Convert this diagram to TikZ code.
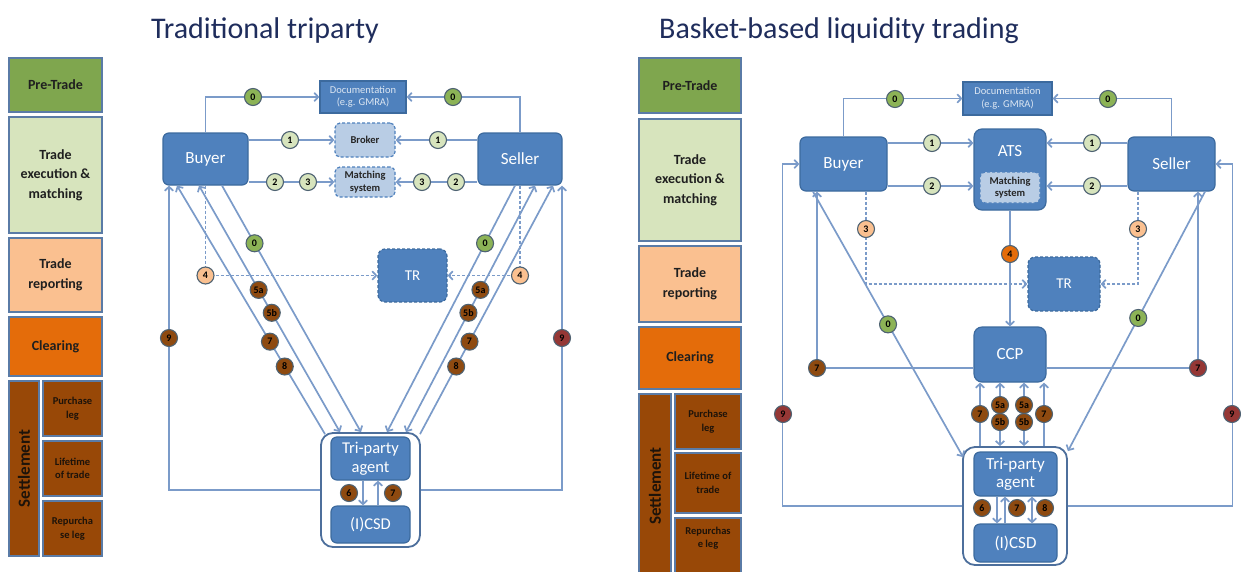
\documentclass[tikz,border=0pt]{standalone}
\usepackage{fontspec}
\setmainfont{Carlito}
\usetikzlibrary{arrows.meta,calc}
\definecolor{boxblue}{HTML}{4F81BD}
\definecolor{boxline}{HTML}{3C6A9E}
\definecolor{connc}{HTML}{7B9BC9}
\definecolor{lightbox}{HTML}{B9CDE5}
\definecolor{outerline}{HTML}{4D6F9C}
\definecolor{phaseline}{HTML}{5A7BA6}
\definecolor{pregreen}{HTML}{7FA64E}
\definecolor{execgreen}{HTML}{D7E4BD}
\definecolor{reppeach}{HTML}{FAC090}
\definecolor{clrorange}{HTML}{E46C0A}
\definecolor{settlebrown}{HTML}{984807}
\definecolor{titleblue}{HTML}{1F2D5C}
\definecolor{numgreen}{HTML}{8CB356}
\definecolor{numbrown}{HTML}{8E4A10}
\definecolor{numred}{HTML}{953735}
\definecolor{numline}{HTML}{4E6272}
\definecolor{doctext}{HTML}{DCE6F2}
\begin{document}
\begin{tikzpicture}[x=1pt,y=-1pt,
  >={Straight Barb[length=4pt,width=8.5pt]},
  conn/.style={draw=connc, line width=1.7pt},
  dsh/.style={dash pattern=on 3pt off 2pt},
  title/.style={font=\fontsize{30}{33}\selectfont, text=titleblue, inner sep=0pt},
  pbox/.style={draw=phaseline, line width=1.8pt, align=center, inner sep=1pt, font=\bfseries\fontsize{14}{19.5}\selectfont, text=black!88},
  sbox/.style={pbox, fill=settlebrown, font=\bfseries\fontsize{10.5}{13.5}\selectfont, text=black!85!brown},
  box/.style={draw=boxline, fill=boxblue, rounded corners=6pt, line width=1.2pt, text=white, inner sep=0pt, align=center, font=\fontsize{17}{18}\selectfont},
  docbox/.style={box, rounded corners=0pt, text=doctext, font=\fontsize{10.5}{12.5}\selectfont},
  lbox/.style={draw=boxblue, fill=lightbox, dsh, rounded corners=5pt, line width=1.2pt, text=black!85, inner sep=0pt, align=center, font=\bfseries\fontsize{10.5}{12.5}\selectfont},
  dbox/.style={box, dsh, rounded corners=7pt, font=\fontsize{15}{16}\selectfont},
  outer/.style={draw=outerline, fill=white, line width=1.8pt, rounded corners=12pt, inner sep=0pt},
  num/.style={circle, draw=numline, line width=1.1pt, minimum size=17pt, inner sep=0pt, text=black, font=\bfseries\fontsize{10}{10}\selectfont},
  n0/.style={num, fill=numgreen},
  n1/.style={num, fill=execgreen},
  np/.style={num, fill=reppeach},
  no/.style={num, fill=clrorange},
  nb/.style={num, fill=numbrown},
  nr/.style={num, fill=numred}
]
\useasboundingbox (0,0) rectangle (1241,571);

% titles
\node[title, anchor=base west] (titleL) at (151,38) {Traditional triparty};
\node[title, anchor=base west] (titleR) at (659,38) {Basket-based liquidity trading};

% ---------- left phase column
\node[pbox, fill=pregreen, minimum width=93pt, minimum height=54pt] (preL) at (55.5,85) {Pre-Trade};
\node[pbox, fill=execgreen, minimum width=93pt, minimum height=116pt] (execL) at (55.5,175) {Trade\\execution \&\\matching};
\node[pbox, fill=reppeach, minimum width=93pt, minimum height=74pt] (repL) at (55.5,275) {Trade\\reporting};
\node[pbox, fill=clrorange, minimum width=93pt, minimum height=59pt] (clrL) at (55.5,346.5) {Clearing};
\node[pbox, fill=settlebrown, rotate=90, minimum width=175pt, minimum height=30pt, text=black!85!brown, font=\bfseries\fontsize{17}{18}\selectfont] (setL) at (24,468.5) {Settlement};
\node[sbox, minimum width=59pt, minimum height=55pt] (purL) at (72.5,408.5) {Purchase\\leg};
\node[sbox, minimum width=59pt, minimum height=55pt] (lifL) at (72.5,468.5) {Lifetime\\of trade};
\node[sbox, minimum width=59pt, minimum height=55pt] (rpuL) at (72.5,528.5) {Repurcha\\se leg};

% ---------- right phase column
\node[pbox, fill=pregreen, minimum width=102pt, minimum height=55pt] (preR) at (690,85.5) {Pre-Trade};
\node[pbox, fill=execgreen, minimum width=102pt, minimum height=122pt] (execR) at (690,180) {Trade\\execution \&\\matching};
\node[pbox, fill=reppeach, minimum width=102pt, minimum height=76pt] (repR) at (690,284) {Trade\\reporting};
\node[pbox, fill=clrorange, minimum width=102pt, minimum height=62pt] (clrR) at (690,358) {Clearing};
\node[pbox, fill=settlebrown, rotate=90, minimum width=184pt, minimum height=32pt, text=black!85!brown, font=\bfseries\fontsize{17}{18}\selectfont] (setR) at (655,486) {Settlement};
\node[sbox, minimum width=66pt, minimum height=55pt] (purR) at (708,421.5) {Purchase\\leg};
\node[sbox, minimum width=66pt, minimum height=60pt] (lifR) at (708,483) {Lifetime of\\trade};
\node[sbox, minimum width=66pt, minimum height=58pt] (rpuR) at (708,547) {};
\node[font=\bfseries\fontsize{10.5}{13.5}\selectfont, text=black!85!brown, align=center] (rpuRt) at (708,538) {Repurchas\\e leg};

% ---------- left diagram nodes
\node[docbox, minimum width=86pt, minimum height=32pt] (docL) at (363,97) {Documentation\\(e.g. GMRA)};
\node[box, minimum width=85pt, minimum height=52pt] (buyerL) at (205.5,159) {Buyer};
\node[box, minimum width=84pt, minimum height=52pt] (sellerL) at (520,159) {Seller};
\node[lbox, minimum width=60pt, minimum height=34pt] (brokerL) at (365,140) {Broker};
\node[lbox, minimum width=60pt, minimum height=30pt] (matchL) at (365,182) {Matching\\system};
\node[dbox, minimum width=69pt, minimum height=53pt] (trL) at (412.5,275.5) {TR};
\node[outer, minimum width=99pt, minimum height=114pt] (tpoL) at (370.5,490) {};
\node[box, minimum width=79pt, minimum height=43pt, font=\fontsize{16.5}{18.5}\selectfont] (tpaL) at (370.5,458.5) {Tri-party\\agent};
\node[box, minimum width=79pt, minimum height=37pt, font=\fontsize{16.5}{18.5}\selectfont] (csdL) at (370.5,524.5) {(I)CSD};

% left connectors
\draw[conn,->] (buyerL.north) |- (docL.west);
\draw[conn,->] (sellerL.north) |- (docL.east);
\draw[conn,->] (buyerL.east |- brokerL.west) -- (brokerL.west);
\draw[conn,->] (sellerL.west |- brokerL.east) -- (brokerL.east);
\draw[conn,->] (buyerL.east |- matchL.west) -- (matchL.west);
\draw[conn,->] (sellerL.west |- matchL.east) -- (matchL.east);
\draw[conn,dsh,->] (buyerL.south) |- (trL.west);
\draw[conn,dsh,->] (sellerL.south) |- (trL.east);
\draw[conn,->] (tpoL.west) -| ([xshift=-36.5pt]buyerL.south);
\draw[conn,->] (tpoL.east) -| ([xshift=42pt]sellerL.south);
\draw[conn,<-] ([xshift=-28.5pt]buyerL.south) -- ([xshift=-45.5pt,yshift=-2pt]tpoL.north)
  node[nb,pos=.628] (n7La) {7} node[nb,pos=.728] (n8La) {8};
\draw[conn,<->] ([xshift=-6.5pt]buyerL.south) -- ([xshift=-30.5pt]tpoL.north)
  node[nb,pos=.423] (n5aLa) {5a} node[nb,pos=.516] (n5bLa) {5b};
\draw[conn,->] ([xshift=16.5pt]buyerL.south) -- ([xshift=-9.5pt]tpoL.north)
  node[n0,pos=.234] (n0Lc) {0};
\draw[conn,->] ([xshift=-5pt]sellerL.south) -- ([xshift=16.5pt]tpoL.north)
  node[n0,pos=.234] (n0Ld) {0};
\draw[conn,<->] ([xshift=15pt]sellerL.south) -- ([xshift=35.5pt]tpoL.north)
  node[nb,pos=.423] (n5aLb) {5a} node[nb,pos=.516] (n5bLb) {5b};
\draw[conn,<-] ([xshift=33pt]sellerL.south) -- ([xshift=49.5pt,yshift=-2pt]tpoL.north)
  node[nb,pos=.628] (n7Lb) {7} node[nb,pos=.728] (n8Lb) {8};
\draw[conn,->] ([xshift=-7.5pt]tpaL.south) -- ([xshift=-7.5pt]csdL.north);
\draw[conn,->] ([xshift=7.5pt]csdL.north) -- ([xshift=7.5pt]tpaL.south);

% left circles
\node[n0] (n0La) at (253,97) {0};
\node[n0] (n0Lb) at (453,97) {0};
\node[n1] (n1La) at (290,140) {1};
\node[n1] (n1Lb) at (438,140) {1};
\node[n1] (n2La) at (275,182) {2};
\node[n1] (n3La) at (308,182) {3};
\node[n1] (n3Lb) at (422,182) {3};
\node[n1] (n2Lb) at (456,182) {2};
\node[np] (n4La) at (205.5,275.5) {4};
\node[np] (n4Lb) at (520,275.5) {4};
\node[nb] (n9La) at (169,338) {9};
\node[nr] (n9Lb) at (562,338) {9};
\node[nb] (n6Lc) at (349,493) {6};
\node[nb] (n7Lc) at (393,493) {7};

% ---------- right diagram nodes
\node[docbox, minimum width=89pt, minimum height=33pt] (docR) at (1007.5,98.5) {Documentation\\(e.g. GMRA)};
\node[box, minimum width=87pt, minimum height=54pt] (buyerR) at (843.5,164) {Buyer};
\node[box, minimum width=87pt, minimum height=54pt] (sellerR) at (1171.5,164) {Seller};
\node[box, minimum width=72pt, minimum height=81pt, rounded corners=8pt] (atsR) at (1010,169.5) {};
\node[text=white, inner sep=0pt, font=\fontsize{17}{18}\selectfont] (atsRt) at (1010,151) {ATS};
\node[lbox, minimum width=60pt, minimum height=31pt] (matchR) at (1010,187.5) {Matching\\system};
\node[dbox, minimum width=72pt, minimum height=54pt] (trR) at (1064,284) {TR};
\node[box, minimum width=72pt, minimum height=55pt, rounded corners=8pt] (ccpR) at (1010,354.5) {CCP};
\node[outer, minimum width=104pt, minimum height=118pt] (tpoR) at (1015,506) {};
\node[box, minimum width=83pt, minimum height=44pt] (tpaR) at (1015.5,474) {Tri-party\\agent};
\node[box, minimum width=83pt, minimum height=38pt] (csdR) at (1015.5,543) {(I)CSD};

% right connectors
\draw[conn,->] (buyerR.north) |- (docR.west);
\draw[conn,->] (sellerR.north) |- (docR.east);
\coordinate (b1R) at ([yshift=21pt]buyerR.east);
\coordinate (b2R) at ([yshift=-22pt]buyerR.east);
\coordinate (s1R) at ([yshift=21pt]sellerR.west);
\coordinate (s2R) at ([yshift=-22pt]sellerR.west);
\draw[conn,->] (b1R) -- (b1R -| atsR.west);
\draw[conn,->] (b2R) -- (b2R -| atsR.west);
\draw[conn,->] (s1R) -- (s1R -| atsR.east);
\draw[conn,->] (s2R) -- (s2R -| atsR.east);
\draw[conn,->] (atsR.south) -- (ccpR.north);
\draw[conn,dsh,->] ([xshift=22.5pt]buyerR.south) |- (trR.west);
\draw[conn,dsh,->] ([xshift=-33.5pt]sellerR.south) |- (trR.east);
\draw[conn,->] ([yshift=-13.5pt]ccpR.west) -| ([xshift=-26.5pt]buyerR.south);
\draw[conn,->] ([yshift=-13.5pt]ccpR.east) -| ([xshift=26.5pt]sellerR.south);
\draw[conn,->] (tpoR.west) -| ([xshift=-17pt]buyerR.west) -- (buyerR.west);
\draw[conn,->] (tpoR.east) -| ([xshift=17pt]sellerR.east) -- (sellerR.east);
\draw[conn,->] ([xshift=-30.5pt]buyerR.south) -- ([xshift=1pt,yshift=-11pt]tpoR.north west)
  node[n0,pos=.5] (n0Rc) {0};
\draw[conn,->] ([xshift=33.5pt]sellerR.south) -- ([yshift=-5pt]tpoR.north east)
  node[n0,pos=.487] (n0Rd) {0};
\draw[conn,->] ([xshift=-35pt]tpoR.north) -- ([xshift=-30pt]ccpR.south);
\draw[conn,<->] ([xshift=-15pt]tpoR.north) -- ([xshift=-10pt]ccpR.south);
\draw[conn,<->] ([xshift=9pt]tpoR.north) -- ([xshift=14pt]ccpR.south);
\draw[conn,->] ([xshift=29pt]tpoR.north) -- ([xshift=34pt]ccpR.south);
\draw[conn,->] ([xshift=-18.5pt]tpaR.south) -- ([xshift=-18.5pt]csdR.north);
\draw[conn,->] ([xshift=-10.5pt]csdR.north) -- ([xshift=-10.5pt]tpaR.south);
\draw[conn,<->] ([xshift=16.5pt]csdR.north) -- ([xshift=16.5pt]tpaR.south);

% right circles
\node[n0] (n0Ra) at (895,99) {0};
\node[n0] (n0Rb) at (1108,99) {0};
\node[n1] (n1Ra) at (932,143) {1};
\node[n1] (n1Rb) at (1092,143) {1};
\node[n1] (n2Ra) at (932,186) {2};
\node[n1] (n2Rb) at (1092,186) {2};
\node[np] (n3Ra) at (866,229) {3};
\node[np] (n3Rb) at (1138,229) {3};
\node[no] (n4R) at (1010,254) {4};
\node[nb] (n7Ra) at (817,368) {7};
\node[nr] (n7Rb) at (1198,368) {7};
\node[nr] (n9Ra) at (783,414) {9};
\node[nr] (n9Rb) at (1232,414) {9};
\node[nb] (n7Rc) at (980,414) {7};
\node[nb] (n5aRa) at (1000,405) {5a};
\node[nb] (n5bRa) at (1000,422) {5b};
\node[nb] (n5aRb) at (1024,405) {5a};
\node[nb] (n5bRb) at (1024,422) {5b};
\node[nb] (n7Rd) at (1044,414) {7};
\node[nb] (n6Re) at (982,508) {6};
\node[nb] (n7Re) at (1017,508) {7};
\node[nb] (n8Re) at (1045,508) {8};
\end{tikzpicture}
\end{document}
